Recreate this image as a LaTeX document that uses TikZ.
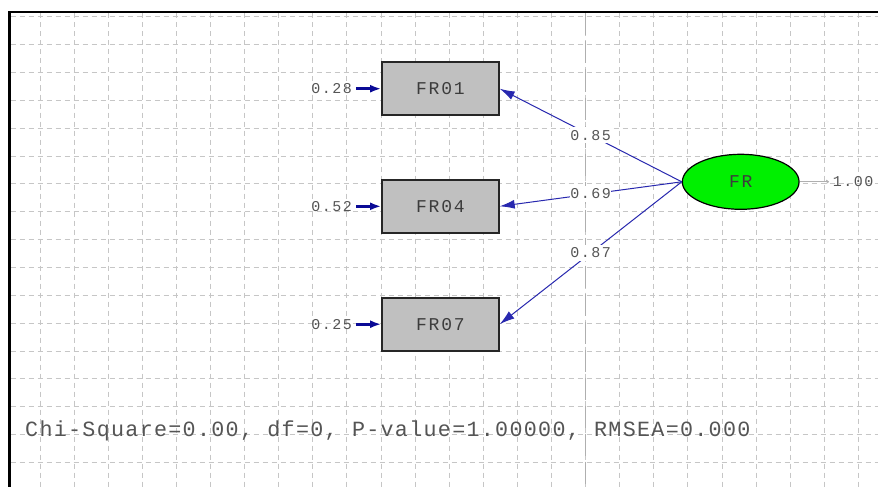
\documentclass[tikz,border=0pt]{standalone}
\usepackage{fontspec}
\newfontfamily\monoA[LetterSpace=10]{Liberation Mono}
\newfontfamily\monoB[LetterSpace=6]{Liberation Mono}
\usetikzlibrary{arrows.meta,shapes.geometric}
\definecolor{gridc}{RGB}{198,198,198}
\definecolor{axisc}{RGB}{175,175,175}
\definecolor{boxc}{RGB}{192,192,192}
\definecolor{latc}{RGB}{0,240,0}
\definecolor{pathblue}{RGB}{40,40,175}
\definecolor{errblue}{RGB}{10,10,150}
\definecolor{txtc}{RGB}{60,60,60}
\definecolor{lbltxt}{RGB}{85,85,85}
\tikzset{
  gridline/.style={draw=gridc, line width=0.9pt, dash pattern=on 5pt off 4pt},
  axisline/.style={draw=axisc, line width=1.6pt, dash pattern=on 22pt off 6pt},
  obsbox/.style={draw=black!85, line width=1.6pt, fill=boxc, minimum width=117pt,
    minimum height=53pt, inner sep=0pt, font=\monoA\fontsize{18}{18}\selectfont, text=txtc},
  latent/.style={ellipse, draw=black, line width=1.2pt, fill=latc, minimum width=116.7pt,
    minimum height=55pt, inner sep=0pt, font=\monoA\fontsize{18}{18}\selectfont, text=txtc},
  loadarrow/.style={draw=pathblue, line width=1pt, -{Latex[length=15pt,width=9pt]}},
  errarrow/.style={draw=errblue, line width=2.6pt, -{Latex[length=11pt,width=8pt]}},
  coeflbl/.style={fill=white, inner sep=0pt, minimum width=40pt, minimum height=16pt,
    font=\monoA\fontsize{15}{15}\selectfont, text=lbltxt},
  errlbl/.style={inner sep=0pt, font=\monoA\fontsize{15}{15}\selectfont, text=lbltxt},
  frameline/.style={draw=black, line width=2.4pt}
}
\begin{document}
\begin{tikzpicture}[x=1pt,y=-1pt]
\useasboundingbox (0,0) rectangle (878,487);
\fill[white] (0,0) rectangle (878,487);
% grid
\foreach \k in {0,...,24} {\draw[gridline] ({40+34.1*\k},13.5) -- ({40+34.1*\k},487);}
\foreach \j in {0,...,16} {\draw[gridline] (10.7,{16.7+27.86*\j}) -- (878,{16.7+27.86*\j});}
\draw[axisline] (585.6,13.5) -- (585.6,487);
% frame
\draw[frameline] (8,12.2) -- (878,12.2);
\draw[frameline] (9.5,12.2) -- (9.5,487);
% nodes
\node[obsbox] (fr01) at (440.4,88.7) {FR01};
\node[obsbox] (fr04) at (440.4,206.3) {FR04};
\node[obsbox] (fr07) at (440.4,324.2) {FR07};
\node[latent] (fr) at (740.7,181.8) {FR};
% loadings
\draw[loadarrow] (fr.west) -- (fr01.east) node[pos=0.5, coeflbl] (l01) {0.85};
\draw[loadarrow] (fr.west) -- (fr04.east) node[pos=0.5, coeflbl] (l04) {0.69};
\draw[loadarrow] (fr.west) -- (fr07.east) node[pos=0.5, coeflbl] (l07) {0.87};
% error variances
\coordinate (e01) at (356,88.7);
\coordinate (e04) at (356,206.3);
\coordinate (e07) at (356,324.2);
\draw[errarrow] (e01) -- (fr01.west);
\draw[errarrow] (e04) -- (fr04.west);
\draw[errarrow] (e07) -- (fr07.west);
\node[errlbl] (t01) at (331.5,88.7) {0.28};
\node[errlbl] (t04) at (331.5,206.3) {0.52};
\node[errlbl] (t07) at (331.5,324.2) {0.25};
% latent variance
\coordinate (v1) at (829,181.8);
\draw[axisc, line width=0.8pt, -{To[length=3pt,width=4pt]}] (fr.east) -- (v1);
\node[errlbl] (tv) at (853,181.8) {1.00};
% fit statistics
\node[anchor=base west, inner sep=0pt, font=\monoB\fontsize{21.7}{22}\selectfont, text=lbltxt]
  (stats) at (25,436.5) {Chi-Square=0.00, df=0, P-value=1.00000, RMSEA=0.000};
\end{tikzpicture}
\end{document}
